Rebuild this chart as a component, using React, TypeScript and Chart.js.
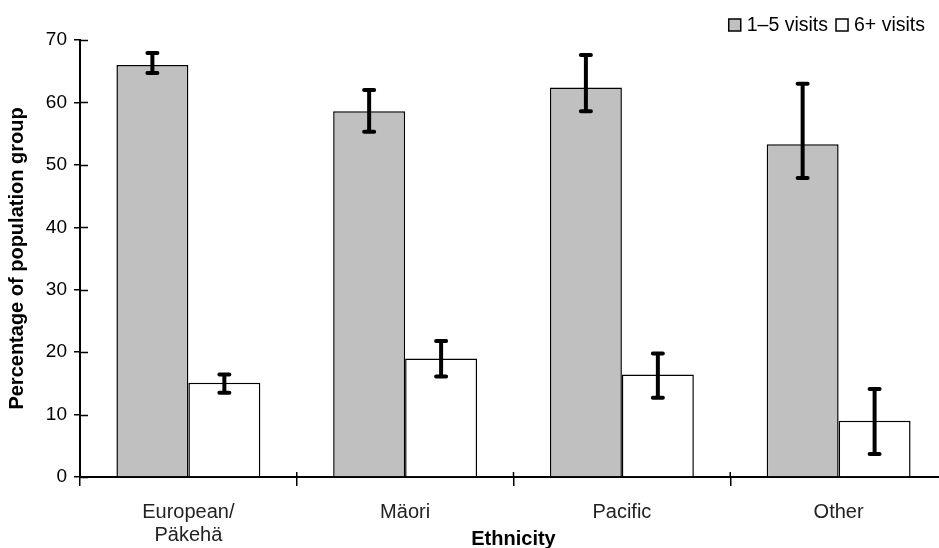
import React, { useEffect, useRef } from "react";
import { Chart, registerables } from "chart.js";

Chart.register(...registerables);

const categories: (string | string[])[] = [["European/", "Päkehä"], "Mäori", "Pacific", "Other"];
const seriesLabels = ["1–5 visits", "6+ visits"];
const visits1to5 = [66.0, 58.6, 62.4, 53.3];
const visits1to5Low = [64.7, 55.3, 58.6, 47.9];
const visits1to5High = [67.9, 62.0, 67.6, 63.0];
const visits6plus = [15.1, 19.0, 16.4, 9.0];
const visits6plusLow = [13.5, 16.1, 12.7, 3.7];
const visits6plusHigh = [16.4, 21.8, 19.8, 14.1];
const yMin = 0;
const yMax = 70;
const yStep = 10;
const xTitle = "Ethnicity";
const yTitle = "Percentage of population group";

const FONT = "'Liberation Sans', Arial, sans-serif";

const errorBarPlugin = {
  id: "errorBars",
  afterDatasetsDraw(chart: any) {
    const ctx = chart.ctx;
    const yScale = chart.scales.y;
    chart.data.datasets.forEach((ds: any, di: number) => {
      const meta = chart.getDatasetMeta(di);
      meta.data.forEach((el: any, i: number) => {
        const x = el.x;
        const yLo = yScale.getPixelForValue(ds.errLow[i]);
        const yHi = yScale.getPixelForValue(ds.errHigh[i]);
        ctx.save();
        ctx.strokeStyle = "#000";
        ctx.lineWidth = 4;
        ctx.lineCap = "butt";
        ctx.beginPath();
        ctx.moveTo(x, yLo);
        ctx.lineTo(x, yHi);
        ctx.stroke();
        ctx.lineWidth = 4;
        ctx.lineCap = "round";
        ctx.beginPath();
        ctx.moveTo(x - 5, yLo);
        ctx.lineTo(x + 5, yLo);
        ctx.moveTo(x - 5, yHi);
        ctx.lineTo(x + 5, yHi);
        ctx.stroke();
        ctx.restore();
      });
    });
  },
};

// inner halves of the tick marks, which cross the axes in the reference
const innerTicksPlugin = {
  id: "innerTicks",
  afterDraw(chart: any) {
    const ctx = chart.ctx;
    const { x, y } = chart.scales;
    const area = chart.chartArea;
    ctx.save();
    ctx.strokeStyle = "#000";
    ctx.lineWidth = 1.5;
    ctx.beginPath();
    y.ticks.forEach((_t: any, i: number) => {
      const py = Math.round(y.getPixelForTick(i)) + 0.5;
      ctx.moveTo(area.left, py);
      ctx.lineTo(area.left + 8, py);
    });
    const n = x.ticks.length;
    for (let i = 1; i < n; i++) {
      const px = (x.getPixelForTick(i - 1) + x.getPixelForTick(i)) / 2;
      ctx.moveTo(px, area.bottom);
      ctx.lineTo(px, area.bottom - 5);
    }
    ctx.stroke();
    ctx.restore();
  },
};

const legendPlugin = {
  id: "customLegend",
  afterDraw(chart: any) {
    const ctx = chart.ctx;
    ctx.save();
    ctx.font = `19.5px ${FONT}`;
    ctx.textBaseline = "middle";
    const right = 925;
    const cy = 25;
    const box = 12;
    const gapBoxText = 6;
    const gapItems = 8;
    const items = chart.data.datasets.map((d: any) => ({ label: d.label, fill: d.backgroundColor }));
    const widths = items.map((it: any) => box + gapBoxText + ctx.measureText(it.label).width);
    const total = widths.reduce((a: number, b: number) => a + b, 0) + gapItems * (items.length - 1);
    let x = right - total;
    items.forEach((it: any, i: number) => {
      ctx.fillStyle = it.fill;
      ctx.fillRect(x, cy - box / 2, box, box);
      ctx.strokeStyle = "#000";
      ctx.lineWidth = 1.5;
      ctx.strokeRect(x, cy - box / 2, box, box);
      ctx.fillStyle = "#000";
      ctx.fillText(it.label, x + box + gapBoxText, cy + 1);
      x += widths[i] + gapItems;
    });
    ctx.restore();
  },
};

export default function App() {
  const ref = useRef<HTMLCanvasElement | null>(null);
  useEffect(() => {
    if (!ref.current) return;
    const chart = new Chart(ref.current, {
      type: "bar",
      data: {
        labels: categories,
        datasets: [
          {
            label: seriesLabels[0],
            data: visits1to5,
            backgroundColor: "#C0C0C0",
            borderColor: "#000",
            borderWidth: 1.5,
            errLow: visits1to5Low,
            errHigh: visits1to5High,
          } as any,
          {
            label: seriesLabels[1],
            data: visits6plus,
            backgroundColor: "#FFFFFF",
            borderColor: "#000",
            borderWidth: 1.5,
            errLow: visits6plusLow,
            errHigh: visits6plusHigh,
          } as any,
        ],
      },
      options: {
        responsive: false,
        animation: false,
        layout: { padding: { top: 40, right: 3, left: 0, bottom: 0 } },
        datasets: { bar: { categoryPercentage: 0.664, barPercentage: 1 } },
        plugins: { legend: { display: false }, tooltip: { enabled: false } },
        scales: {
          x: {
            grid: { display: true, offset: true, drawOnChartArea: false, drawTicks: true, tickLength: 9, color: "#000", lineWidth: 1.5 },
            border: { display: true, color: "#000", width: 2 },
            ticks: { color: "#222", font: { family: FONT, size: 20, lineHeight: 1.15 }, padding: 15, maxRotation: 0, autoSkip: false },
            title: { display: true, text: xTitle, color: "#000", font: { family: FONT, size: 20, weight: "bold", lineHeight: 0.9 }, padding: { top: 0, bottom: 0 } },
            afterFit(scale: any) { scale.height = 71; },
          },
          y: {
            min: yMin,
            max: yMax,
            ticks: { stepSize: yStep, color: "#000", font: { family: FONT, size: 19 }, padding: 7 },
            grid: { display: true, drawOnChartArea: false, drawTicks: true, tickLength: 6, color: "#000", lineWidth: 1.5 },
            border: { display: true, color: "#000", width: 2 },
            title: { display: true, text: yTitle, color: "#000", font: { family: FONT, size: 20, weight: "bold", lineHeight: 1.1 }, padding: { top: 6, bottom: 0 } },
            afterFit(scale: any) { scale.width = 80; },
          },
        },
      },
      plugins: [errorBarPlugin, innerTicksPlugin, legendPlugin],
    });
    return () => chart.destroy();
  }, []);
  return (
    <div style={{ position: "fixed", left: 0, top: 0, width: 939, height: 548, overflow: "hidden", background: "#fff" }}>
      <canvas ref={ref} width={950} height={548} style={{ display: "block" }} />
    </div>
  );
}
